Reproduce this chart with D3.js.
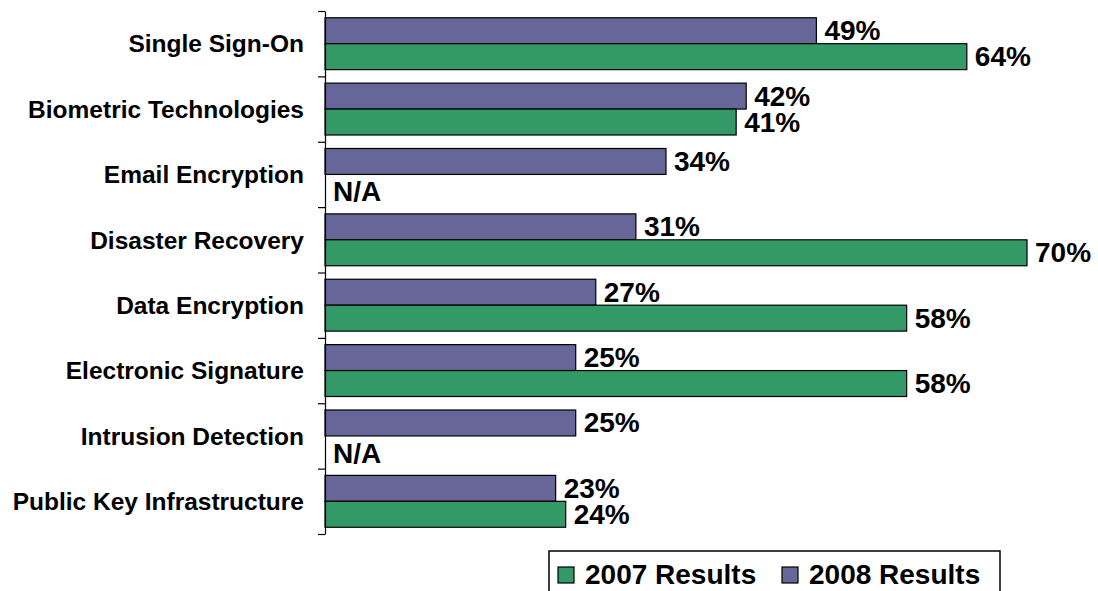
<!DOCTYPE html>
<html>
<head>
<meta charset="utf-8">
<script src="https://cdn.jsdelivr.net/npm/d3@7"></script>
<style>
  body { margin: 0; background: #fff; }
  svg text { font-family: "Liberation Sans", Arial, sans-serif; font-weight: bold; fill: #000; }
</style>
</head>
<body>
<div id="chart"></div>
<script>
// data
var categories = ["Single Sign-On", "Biometric Technologies", "Email Encryption", "Disaster Recovery",
                  "Data Encryption", "Electronic Signature", "Intrusion Detection", "Public Key Infrastructure"];
var results2008 = [49, 42, 34, 31, 27, 25, 25, 23];
var results2007 = [64, 41, null, 70, 58, 58, null, 24];
var seriesNames = ["2008 Results", "2007 Results"];
var legendOrder = ["2007 Results", "2008 Results"];

var w = 1098, h = 591;
var colors = { "2008 Results": "#666699", "2007 Results": "#339966" };

var svg = d3.select("#chart").append("svg")
    .attr("width", w)
    .attr("height", h);

var x = d3.scaleLinear().domain([0, 70]).range([325, 1027]);
var y = d3.scaleBand().domain(categories).range([11, 534]);
var ySub = d3.scaleBand().domain(seriesNames).range([0, y.bandwidth()]).paddingOuter(0.26);
var yIdx = d3.scaleLinear().domain([0, categories.length]).range([11, 534]);

var rows = categories.map(function (c, i) {
    return { cat: c, vals: [
        { s: "2008 Results", v: results2008[i] },
        { s: "2007 Results", v: results2007[i] }
    ]};
});

var g = svg.selectAll("g.row")
    .data(rows)
    .enter()
    .append("g")
    .attr("class", "row")
    .attr("transform", function (d) { return "translate(0," + y(d.cat) + ")"; });

g.selectAll("rect")
    .data(function (d) { return d.vals.filter(function (e) { return e.v != null; }); })
    .enter()
    .append("rect")
    .attr("x", x(0))
    .attr("y", function (d) { return ySub(d.s); })
    .attr("width", function (d) { return x(d.v) - x(0); })
    .attr("height", ySub.bandwidth())
    .attr("fill", function (d) { return colors[d.s]; })
    .attr("stroke", "#000")
    .attr("stroke-width", 1.2);

g.selectAll("text.val")
    .data(function (d) { return d.vals; })
    .enter()
    .append("text")
    .attr("class", "val")
    .attr("font-size", 28)
    .attr("x", function (d) { return d.v == null ? x(0) + 8 : x(d.v) + 8; })
    .attr("y", function (d) { return ySub(d.s) + ySub.bandwidth() / 2 + (d.v == null ? 14 : 9.5); })
    .text(function (d) { return d.v == null ? "N/A" : d.v + "%"; });

// category labels
svg.selectAll("text.cat")
    .data(categories)
    .enter()
    .append("text")
    .attr("class", "cat")
    .attr("font-size", 24.5)
    .attr("text-anchor", "end")
    .attr("x", 304)
    .attr("y", function (d) { return y(d) + y.bandwidth() / 2 + 8.7; })
    .text(function (d) { return d; });

// vertical axis with ticks between groups
svg.append("g")
    .attr("transform", "translate(" + x(0) + ",0)")
    .call(d3.axisLeft(yIdx).tickValues(d3.range(categories.length + 1)).tickSizeInner(7).tickSizeOuter(0).tickFormat(""))
    .call(function (a) {
        a.selectAll("line").attr("stroke", "#000").attr("stroke-width", 1.2);
        a.select(".domain").attr("stroke", "#000").attr("stroke-width", 1.2);
    });

// legend
var legend = svg.append("g");
legend.append("rect")
    .attr("x", 549).attr("y", 551)
    .attr("width", 451).attr("height", 60)
    .attr("fill", "#fff")
    .attr("stroke", "#000")
    .attr("stroke-width", 1.5);

var lx = [558, 782];
var items = legend.selectAll("g.item")
    .data(legendOrder)
    .enter()
    .append("g")
    .attr("class", "item");

items.append("rect")
    .attr("x", function (d, i) { return lx[i]; })
    .attr("y", 567)
    .attr("width", 16).attr("height", 16)
    .attr("fill", function (d) { return colors[d]; })
    .attr("stroke", "#000")
    .attr("stroke-width", 1.2);

items.append("text")
    .attr("font-size", 28)
    .attr("x", function (d, i) { return lx[i] + 27; })
    .attr("y", 584)
    .text(function (d) { return d; });
</script>
</body>
</html>
